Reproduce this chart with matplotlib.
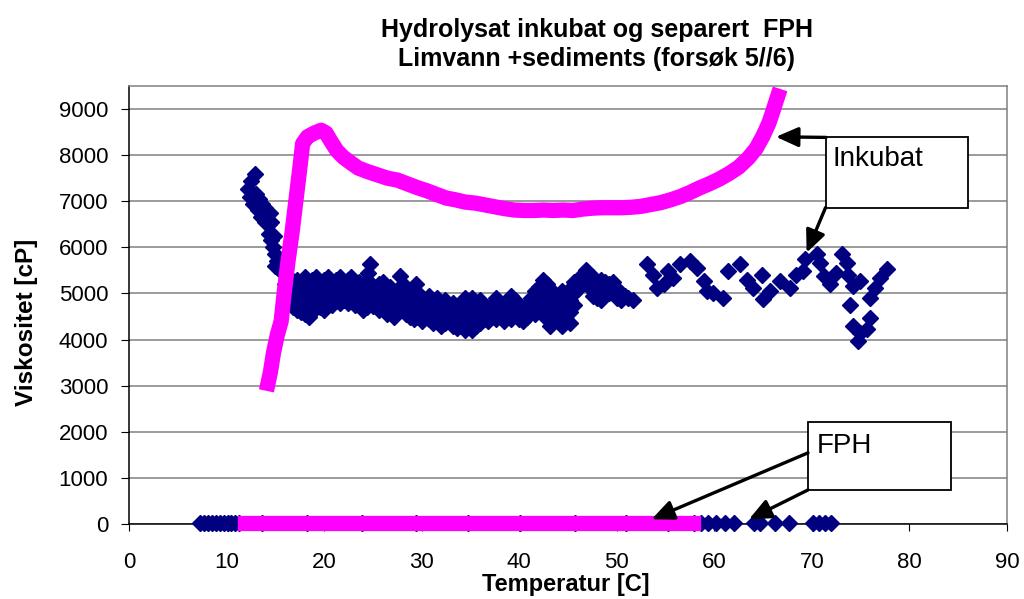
import matplotlib
matplotlib.use('Agg')
import matplotlib.pyplot as plt
from matplotlib.patches import Rectangle

plt.rcParams['font.family'] = ['Liberation Sans', 'DejaVu Sans']

title_lines = ["Hydrolysat inkubat og separert  FPH", "Limvann +sediments (forsøk 5//6)"]
x_label = "Temperatur [C]"
y_label = "Viskositet [cP]"
x_ticks = [0, 10, 20, 30, 40, 50, 60, 70, 80, 90]
y_ticks = [0, 1000, 2000, 3000, 4000, 5000, 6000, 7000, 8000, 9000]

# Run 1 (navy diamonds) - inkubat viscosity (temperature, viscosity)
inkubat_navy = [
    (12.9, 7600), (12.5, 7430), (12.2, 7260), (12.4, 7100), (12.7, 6950), (13.0, 7150),
    (13.3, 7050), (13.6, 6950), (13.9, 6850), (14.2, 6750), (14.5, 6750), (13.2, 6800),
    (13.5, 6650), (13.9, 6550), (14.3, 6500), (14.6, 6550), (14.3, 6300), (14.6, 6150),
    (14.9, 6250), (14.8, 6000), (15.0, 5850), (15.2, 5700), (15.0, 5600), (15.3, 5550),
    (15.5, 5500),
    (16.0, 5500), (16.0, 5200), (16.0, 4900), (16.4, 5350), (16.4, 5050), (16.4, 4800),
    (16.8, 5250), (16.8, 4950), (16.8, 4700), (17.2, 5300), (17.2, 5000), (17.2, 4650),
    (17.2, 4800), (17.6, 5200), (17.6, 4900), (17.6, 4600), (18.0, 5350), (18.0, 5100),
    (18.0, 4800), (18.0, 4550), (18.4, 5250), (18.4, 4950), (18.4, 4700), (18.4, 4500),
    (18.8, 5300), (18.8, 5050), (18.8, 4800), (18.8, 4600), (19.2, 5350), (19.2, 5000),
    (19.2, 4750), (19.6, 5250), (19.6, 4950), (19.6, 4700), (20.0, 5300), (20.0, 5100),
    (20.0, 4850), (20.0, 4650), (20.4, 5350), (20.4, 5050), (20.4, 4800), (20.8, 5200),
    (20.8, 4950), (20.8, 4750), (21.2, 5300), (21.2, 5100), (21.2, 4850), (21.6, 5350),
    (21.6, 5000), (21.6, 4800), (22.0, 5200), (22.0, 5050), (22.0, 4850), (22.4, 5300),
    (22.4, 4950), (22.4, 4800), (22.8, 5350), (22.8, 5100), (22.8, 4850), (23.2, 5200),
    (23.2, 5000), (23.2, 4750),
    (24.7, 5650), (24.5, 5450), (25.0, 4720), (27.8, 5380), (29.4, 5200),
    (23.6, 5250), (23.6, 5000), (23.6, 4750), (24.0, 5150), (24.0, 4900), (24.0, 4650),
    (24.4, 5300), (24.4, 5000), (24.4, 4700), (24.8, 5200), (24.8, 4950), (25.2, 5100),
    (25.2, 4850), (25.6, 5200), (25.6, 4900), (25.6, 4650), (26.0, 5250), (26.0, 5000),
    (26.0, 4700), (26.4, 5100), (26.4, 4800), (26.4, 4550), (26.8, 5150), (26.8, 4900),
    (26.8, 4650), (27.2, 5000), (27.2, 4750), (27.2, 4500), (27.6, 5100), (27.6, 4850),
    (27.6, 4600), (28.0, 5000), (28.0, 4750), (28.4, 5150), (28.4, 4900), (28.4, 4550),
    (28.8, 5050), (28.8, 4800), (28.8, 4500), (29.2, 4950), (29.2, 4700), (29.2, 4450),
    (29.6, 5000), (29.6, 4750), (29.6, 4500), (30.0, 4900), (30.0, 4650), (30.0, 4400),
    (30.4, 4850), (30.4, 4600), (30.8, 4950), (30.8, 4700), (30.8, 4450), (31.2, 4850),
    (31.2, 4600), (31.2, 4350), (31.6, 4900), (31.6, 4650), (31.6, 4400),
    (32.0, 4750), (32.0, 4500), (32.0, 4300), (32.4, 4850), (32.4, 4600), (32.4, 4350),
    (32.8, 4700), (32.8, 4450), (33.2, 4800), (33.2, 4550), (33.2, 4300), (33.6, 4650),
    (33.6, 4400), (33.6, 4250), (34.0, 4750), (34.0, 4500), (34.0, 4300), (34.4, 4900),
    (34.4, 4650), (34.4, 4400), (34.4, 4200), (34.8, 4800), (34.8, 4550), (34.8, 4300),
    (35.2, 4900), (35.2, 4650), (35.2, 4400), (35.2, 4200), (35.6, 4750), (35.6, 4500),
    (35.6, 4300), (36.0, 4850), (36.0, 4600), (36.0, 4350),
    (36.4, 4700), (36.4, 4450), (36.8, 4600), (36.8, 4400), (37.2, 4750), (37.2, 4500),
    (37.6, 4900), (37.6, 4650), (37.6, 4450), (38.0, 4800), (38.0, 4550), (38.4, 4650),
    (38.4, 4400), (38.8, 4750), (38.8, 4500), (39.2, 4950), (39.2, 4700), (39.2, 4450),
    (39.6, 4850), (39.6, 4600), (40.0, 4700), (40.0, 4450), (40.4, 4600), (40.4, 4400),
    (40.8, 4750), (40.8, 4500), (41.2, 4900), (41.2, 4650), (41.6, 5050), (41.6, 4800),
    (41.6, 4550), (42.0, 5150), (42.0, 4900), (42.0, 4650),
    (42.4, 5300), (42.4, 5050), (42.4, 4800), (42.4, 4550), (42.8, 5200), (42.8, 4950),
    (42.8, 4700), (42.8, 4450), (43.2, 5100), (43.2, 4850), (43.2, 4600), (43.2, 4300),
    (43.6, 5000), (43.6, 4750), (43.6, 4500), (44.0, 4900), (44.0, 4650), (44.0, 4400),
    (44.4, 5050), (44.4, 4800), (44.4, 4550), (44.4, 4300), (44.8, 4950), (44.8, 4700),
    (44.8, 4450), (45.2, 5100), (45.2, 4850), (45.2, 4600), (45.2, 4350), (45.6, 5250),
    (45.6, 5000), (45.6, 4750), (46.0, 5300), (46.0, 5100), (46.4, 5400), (46.4, 5200),
    (46.8, 5500), (46.8, 5300), (47.2, 5400), (47.2, 5150),
    (47.6, 5350), (47.6, 5100), (47.6, 4950), (48.0, 5200), (48.0, 4900), (48.4, 5300),
    (48.4, 5050), (48.4, 4850), (48.8, 5250), (49.2, 5200), (49.2, 5000), (49.6, 5250),
    (49.6, 5050), (50.0, 5100), (50.0, 4900), (50.4, 5000), (50.4, 4850), (50.8, 4950),
    (51.2, 4900), (51.7, 4850),
    (53.1, 5630), (53.7, 5410), (54.1, 5120), (54.8, 5200), (55.2, 5490), (55.8, 5340),
    (56.5, 5630), (57.5, 5700), (58.2, 5560), (58.9, 5270), (59.2, 5050), (59.9, 5015),
    (60.9, 4910), (61.4, 5490), (62.6, 5630), (63.3, 5300), (64.0, 5120), (64.85, 5410),
    (65.0, 4870), (65.7, 5050), (66.7, 5270), (67.75, 5120), (68.4, 5410), (69.1, 5490),
    (69.3, 5740), (70.5, 5850), (70.8, 5670), (71.2, 5380), (71.85, 5200), (72.5, 5450),
    (73.05, 5850), (73.6, 5670), (73.7, 5410), (74.25, 5160), (74.9, 5270), (73.9, 4760),
    (74.25, 4290), (74.9, 4150), (74.75, 3960), (75.6, 4220), (75.95, 4470), (75.95, 4910),
    (76.5, 5120), (77.0, 5340), (77.7, 5520),
]

# Run 2 (magenta) - inkubat viscosity
inkubat_magenta_temp = [
    14.25, 14.5, 14.8, 15.2, 15.6, 15.9, 16.3, 16.7, 17.1, 17.5, 17.8, 18.3, 19.0, 19.7,
    20.2, 20.7, 21.3, 22.0, 22.7, 23.5, 24.5, 25.5, 26.5, 27.5, 28.5, 29.5, 30.5, 31.5,
    32.5, 33.5, 34.5, 35.5, 36.5, 37.5, 38.5, 39.5, 40.5, 41.5, 42.5, 43.5, 44.5, 45.5,
    46.5, 47.5, 48.5, 49.5, 50.5, 51.5, 52.5, 53.5, 54.5, 55.5, 56.5, 57.5, 58.5, 59.5,
    60.5, 61.5, 62.5, 63.5, 64.3, 65.0, 65.6, 66.0, 66.3, 66.5,
]
inkubat_magenta_visc = [
    3050, 3300, 3700, 4100, 4400, 5000, 5700, 6300, 7000, 7700, 8250, 8400, 8480, 8540,
    8480, 8300, 8100, 7950, 7840, 7720, 7640, 7570, 7500, 7460, 7380, 7300, 7230, 7150,
    7070, 7030, 6980, 6960, 6920, 6880, 6840, 6810, 6800, 6800, 6810, 6800, 6810, 6800,
    6830, 6850, 6860, 6860, 6860, 6870, 6890, 6930, 6970, 7030, 7100, 7190, 7290, 7380,
    7480, 7600, 7740, 7940, 8150, 8420, 8700, 8950, 9150, 9280,
]

# FPH runs (viscosity near zero)
fph_navy_temp = [7.3, 7.7, 8.1, 8.5, 8.9, 9.3, 9.7, 10.1, 10.5, 10.9, 11.3, 13.6, 18.2,
                 23.9, 29.4, 34.8, 40.1, 45.7, 50.9, 55.2, 57.9, 58.6, 59.3, 60.2, 61.1,
                 62.0, 64.1, 64.7, 66.2, 67.7, 70.1, 70.7, 71.3, 72.0]
fph_navy_visc = [20, 20, 20, 20, 20, 20, 20, 20, 20, 20, 20, 20, 20, 20, 20, 20, 20,
                 20, 20, 20, 20, 20, 20, 20, 20, 20, 20, 20, 20, 20, 20, 20, 20, 20]
fph_magenta_temp = [11.9, 14.7, 19.3, 24.6, 30.2, 35.8, 41.4, 46.9, 52.3, 56.4, 57.8]
fph_magenta_visc = [20, 20, 20, 20, 20, 20, 20, 20, 20, 20, 20]

NAVY = '#000080'
MAGENTA = '#FF00FF'

fig = plt.figure(figsize=(10.24, 5.99), dpi=100)
ax = fig.add_axes([129 / 1024, 1 - 524 / 599, 878 / 1024, 438 / 599])

ax.set_xlim(0, 90)
ax.set_ylim(0, 9500)
ax.set_xticks(x_ticks)
ax.set_yticks(y_ticks)
ax.tick_params(axis='both', direction='out', labelsize=16, color='black')
ax.tick_params(axis='x', length=5, pad=15)
ax.tick_params(axis='y', length=6, pad=9)
ax.yaxis.grid(True, color='#808080', lw=1.1)
ax.set_axisbelow(True)
for s in ['left', 'bottom']:
    ax.spines[s].set_color('black')
    ax.spines[s].set_linewidth(1.1)
for s in ['top', 'right']:
    ax.spines[s].set_color('#808080')
    ax.spines[s].set_linewidth(1.1)

nx = [p[0] for p in inkubat_navy]
ny = [p[1] for p in inkubat_navy]
ax.plot(nx, ny, linestyle='none', marker='D', markersize=8.0, color=NAVY, zorder=3)
ax.plot(fph_navy_temp, fph_navy_visc, linestyle='none', marker='D', markersize=8.0,
        color=NAVY, zorder=3, clip_on=False)

ax.plot(inkubat_magenta_temp, inkubat_magenta_visc, color=MAGENTA, lw=11,
        solid_joinstyle='round', solid_capstyle='projecting', zorder=4)
ax.plot(fph_magenta_temp, fph_magenta_visc, color=MAGENTA, lw=11,
        solid_capstyle='projecting', zorder=4, clip_on=False)

# annotation boxes
ax.add_patch(Rectangle((71.41, 6863), 86.03 - 71.41, 8385 - 6863, facecolor='white',
                       edgecolor='black', lw=1.3, zorder=6, clip_on=False))
ax.text(72.16, 8196, "Inkubat", fontsize=20, ha='left', va='top', zorder=7)
ax.add_patch(Rectangle((69.6, 739), 84.25 - 69.6, 2217 - 739, facecolor='white',
                       edgecolor='black', lw=1.3, zorder=6, clip_on=False))
ax.text(70.52, 1978, "FPH", fontsize=20, ha='left', va='top', zorder=7)

arrow_kw = dict(arrowstyle='-|>,head_length=0.9,head_width=0.4', color='black',
                lw=2.4, shrinkA=0, shrinkB=0, mutation_scale=15)
for start, end in [((71.45, 8385), (66.32, 8398)), ((71.4, 6863), (69.46, 5885)),
                   ((69.6, 1543), (53.57, 102)), ((69.6, 739), (63.55, 102))]:
    ax.annotate('', xy=end, xytext=start, arrowprops=arrow_kw, zorder=8,
                annotation_clip=False)

fig.text(597 / 1024, 1 - 30 / 599, title_lines[0], fontsize=18, fontweight='bold',
         ha='center', va='center')
fig.text(597 / 1024, 1 - 59 / 599, title_lines[1], fontsize=18, fontweight='bold',
         ha='center', va='center')
fig.text(565.5 / 1024, 1 - 584 / 599, x_label, fontsize=17, fontweight='bold',
         ha='center', va='center')
fig.text(27 / 1024, 1 - 322 / 599, y_label, fontsize=17.5, fontweight='bold',
         ha='center', va='center', rotation=90)

fig.savefig('out.png', dpi=100)
